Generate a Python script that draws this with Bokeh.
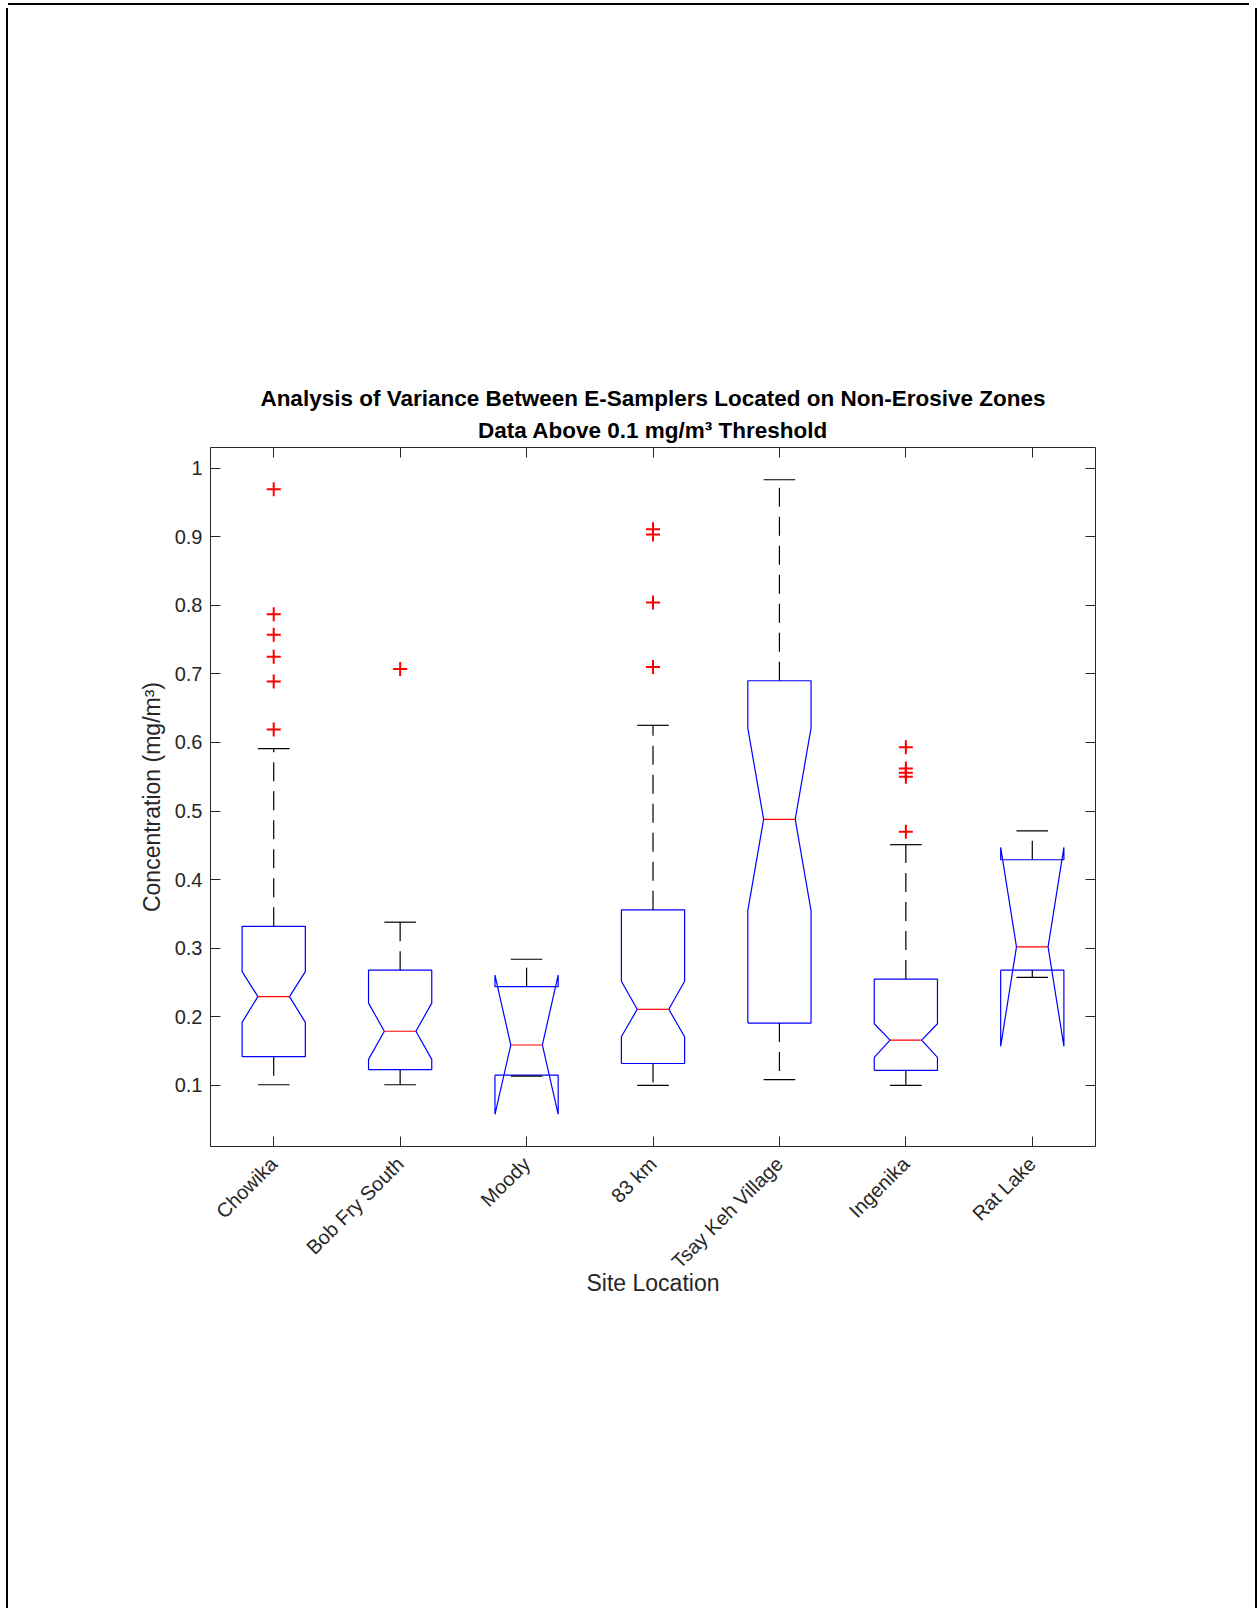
import numpy as np
from bokeh.plotting import figure
from bokeh.models import Range1d, FixedTicker, LinearAxis, Title
from bokeh.embed import file_html
from bokeh.resources import INLINE

# ---------------- data ----------------
sites = ["Chowika", "Bob Fry South", "Moody", "83 km", "Tsay Keh Village", "Ingenika", "Rat Lake"]
q1 = [0.142, 0.123, 0.115, 0.132, 0.191, 0.122, 0.268]
median = [0.2295, 0.179, 0.159, 0.211, 0.488, 0.166, 0.302]
q3 = [0.332, 0.268, 0.244, 0.356, 0.690, 0.255, 0.429]
notch_lo = [0.192, 0.138, 0.058, 0.171, 0.355, 0.141, 0.157]
notch_hi = [0.266, 0.220, 0.261, 0.252, 0.621, 0.190, 0.447]
whisker_lo = [0.101, 0.101, 0.1137, 0.100, 0.1085, 0.100, 0.2575]
whisker_hi = [0.591, 0.338, 0.284, 0.625, 0.983, 0.451, 0.471]
outliers = [
    [0.969, 0.787, 0.757, 0.725, 0.689, 0.619],
    [0.707],
    [],
    [0.911, 0.903, 0.804, 0.710],
    [],
    [0.593, 0.562, 0.556, 0.550, 0.470],
    [],
]
y_ticks = [0.1, 0.2, 0.3, 0.4, 0.5, 0.6, 0.7, 0.8, 0.9, 1.0]
y_tick_labels = ["0.1", "0.2", "0.3", "0.4", "0.5", "0.6", "0.7", "0.8", "0.9", "1"]
title_lines = ["Analysis of Variance Between E-Samplers Located on Non-Erosive Zones",
               "Data Above 0.1 mg/m\u00b3 Threshold"]
x_label = "Site Location"
y_label = "Concentration (mg/m\u00b3)"

# ---------------- styling ----------------
FONT = "Liberation Sans"
TXT = "#262626"
BOX_W = 0.25      # half width of a box
NOTCH_W = 0.125   # half width at the median

xpos = list(range(1, len(sites) + 1))

p = figure(width=1241, height=1600, output_backend="svg", toolbar_location=None,
           x_range=Range1d(0.5, 7.5), y_range=Range1d(0.011, 1.03),
           min_border_left=202, min_border_right=154,
           min_border_top=439, min_border_bottom=462,
           background_fill_color="white", border_fill_color="white")
p.grid.visible = False
p.outline_line_color = None
p.styles = {"margin": "8px 0 0 8px",
            "box-shadow": "0 -3px 0 0 #ffffff, 6px 0 0 0 #ffffff, "
                          "0 -5px 0 0 #000000, -2px 0 0 0 #000000, 8px 0 0 0 #000000"}


def style_axis(ax, labels=True):
    ax.axis_line_color = TXT
    ax.axis_line_width = 1
    ax.major_tick_line_color = TXT
    ax.major_tick_in = 10
    ax.major_tick_out = 0
    ax.minor_tick_line_color = None
    ax.major_label_text_font = FONT
    ax.major_label_text_font_size = "20px" if labels else "0px"
    ax.major_label_text_color = TXT if labels else None
    ax.axis_label_text_font = FONT
    ax.axis_label_text_font_size = "23px"
    ax.axis_label_text_font_style = "normal"
    ax.axis_label_text_color = TXT
    if not labels:
        ax.major_label_standoff = 0


# bottom axis
xa = p.xaxis[0]
xa.ticker = FixedTicker(ticks=xpos)
xa.major_label_overrides = {i: s for i, s in zip(xpos, sites)}
xa.major_label_orientation = np.pi / 4
xa.major_label_standoff = 14
xa.axis_label = x_label
xa.axis_label_standoff = -13
style_axis(xa)

# left axis
ya = p.yaxis[0]
ya.ticker = FixedTicker(ticks=y_ticks)
ya.major_label_overrides = {t: s for t, s in zip(y_ticks, y_tick_labels)}
ya.major_label_standoff = 8
ya.axis_label = y_label
ya.axis_label_standoff = 7
style_axis(ya)

# mirrored axes (top / right), ticks only
ra = LinearAxis(ticker=FixedTicker(ticks=y_ticks))
style_axis(ra, labels=False)
p.add_layout(ra, "right")
ta = LinearAxis(ticker=FixedTicker(ticks=xpos))
style_axis(ta, labels=False)
p.add_layout(ta, "above")

# ---------------- title (second line nearest the axes) ----------------
for line, gap in zip(reversed(title_lines), [9, 1]):
    p.add_layout(Title(text=line, align="center", text_font=FONT, text_font_size="22.5px",
                       text_font_style="bold", text_color="black", standoff=gap), "above")

# ---------------- notched boxes ----------------
box_xs, box_ys = [], []
for x, a, nl, m, nh, b in zip(xpos, q1, notch_lo, median, notch_hi, q3):
    box_xs.append([x - BOX_W, x - BOX_W, x - NOTCH_W, x - BOX_W, x - BOX_W,
                   x + BOX_W, x + BOX_W, x + NOTCH_W, x + BOX_W, x + BOX_W, x - BOX_W])
    box_ys.append([a, nl, m, nh, b, b, nh, m, nl, a, a])
p.multi_line(box_xs, box_ys, line_color="#0000ff", line_width=1.2)

# whiskers (dashed)
p.segment(x0=xpos, y0=q3, x1=xpos, y1=whisker_hi, line_color="black",
          line_width=1.2, line_dash="19 10")
p.segment(x0=xpos, y0=q1, x1=xpos, y1=whisker_lo, line_color="black",
          line_width=1.2, line_dash="19 10")
# caps
xl = [x - NOTCH_W for x in xpos]
xr = [x + NOTCH_W for x in xpos]
p.segment(x0=xl, y0=whisker_hi, x1=xr, y1=whisker_hi, line_color="black", line_width=1.2)
p.segment(x0=xl, y0=whisker_lo, x1=xr, y1=whisker_lo, line_color="black", line_width=1.2)
# medians
p.segment(x0=xl, y0=median, x1=xr, y1=median, line_color="#ff0000", line_width=1.2)

# outliers
ox = [x for x, vals in zip(xpos, outliers) for _ in vals]
oy = [v for vals in outliers for v in vals]
p.scatter(ox, oy, marker="cross", size=14, line_color="#ff0000", line_width=2)

open("out.html", "w").write(file_html(p, INLINE))
